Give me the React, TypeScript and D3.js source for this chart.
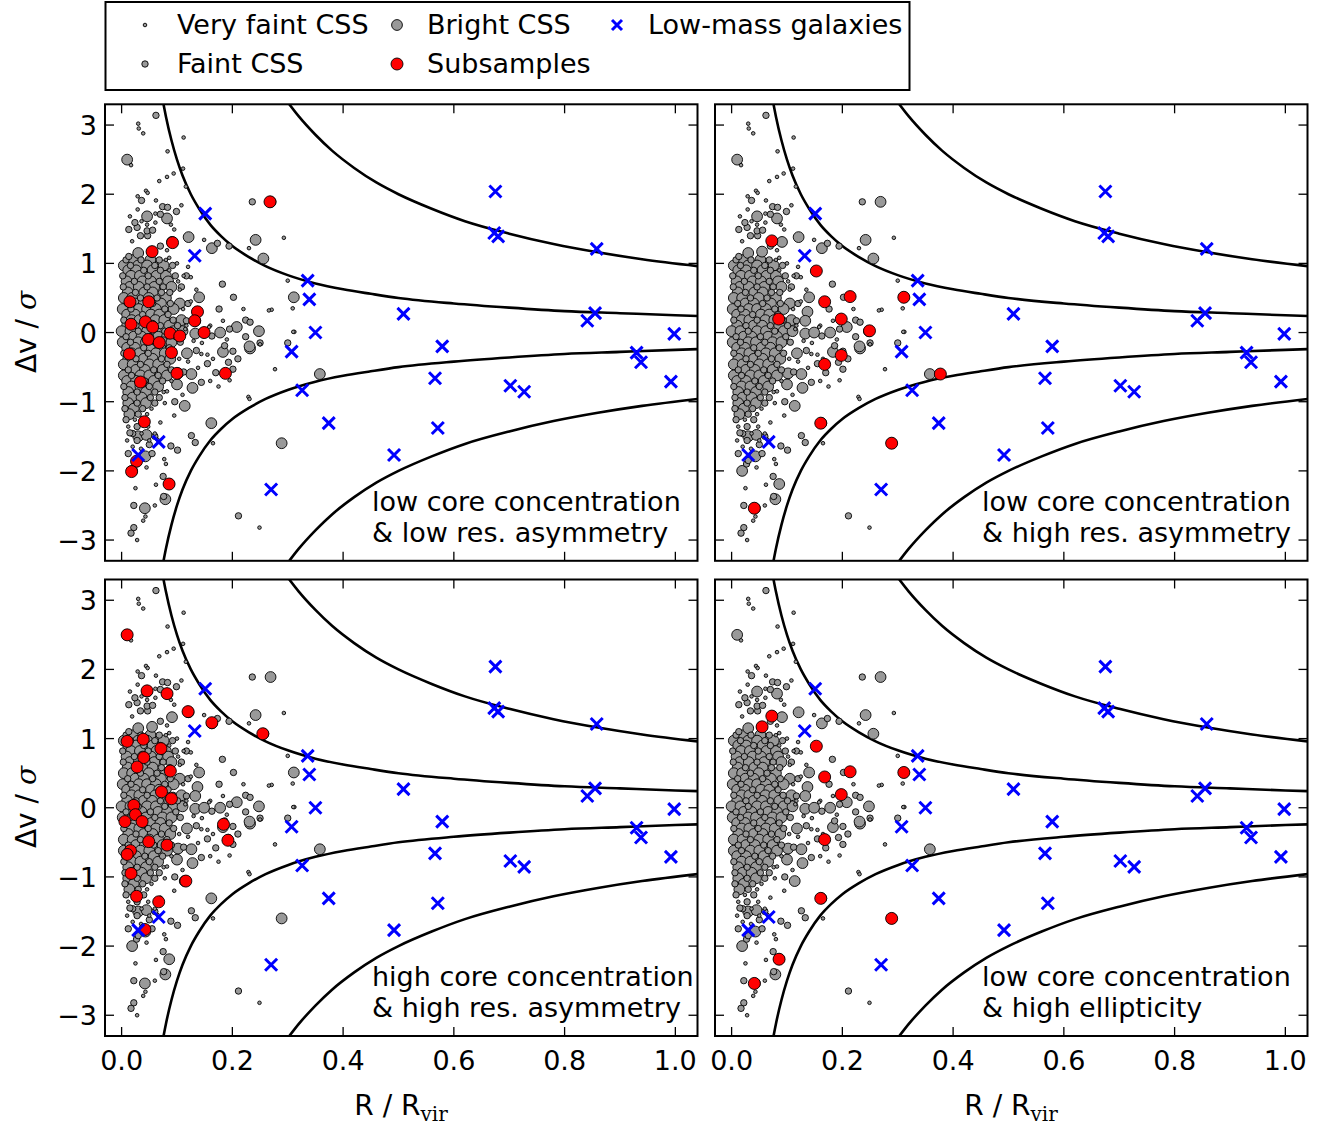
import React from 'react';
import * as d3 from 'd3';

// ---------------- DATA ----------------
const X_DOMAIN: [number, number] = [-0.03, 1.04];
const Y_DOMAIN: [number, number] = [-3.3, 3.3];
const X_TICKS = [0, 0.2, 0.4, 0.6, 0.8, 1.0];
const Y_TICKS = [-3, -2, -1, 0, 1, 2, 3];

// boundary lines (upper branch; lower branch is its mirror)
const INNER_R = [0.075, 0.08, 0.09, 0.1, 0.11, 0.125, 0.14, 0.16, 0.18, 0.2, 0.23, 0.26, 0.3, 0.35, 0.4, 0.45, 0.5, 0.6, 0.7, 0.8, 0.9, 1.0, 1.04];
const INNER_V = [3.33, 3.125, 2.78, 2.5, 2.27, 2.0, 1.79, 1.56, 1.39, 1.25, 1.09, 0.96, 0.83, 0.71, 0.625, 0.56, 0.5, 0.42, 0.36, 0.31, 0.28, 0.25, 0.24];
const OUTER_R = [0.3, 0.32, 0.35, 0.38, 0.42, 0.46, 0.5, 0.56, 0.62, 0.7, 0.78, 0.86, 0.94, 1.04];
const OUTER_V = [3.33, 3.125, 2.86, 2.63, 2.38, 2.17, 2.0, 1.79, 1.61, 1.43, 1.28, 1.16, 1.06, 0.96];

// CSS (gray) – dense core, rows of [dv, [[R, class]...]]; class 0 very faint, 1 faint, 2 bright
const CSS_CORE_ROWS: [number, [number, number][]][] = [
  [1.05, [[0.008, 1], [0.022, 2], [0.035, 1], [0.052, 2], [0.068, 1], [0.08, 0]]],
  [0.97, [[0.004, 2], [0.016, 1], [0.03, 2], [0.046, 2], [0.06, 1], [0.076, 2], [0.092, 1]]],
  [0.9, [[0.012, 2], [0.026, 2], [0.04, 1], [0.056, 2], [0.07, 1], [0.086, 0]]],
  [0.82, [[0.002, 1], [0.017, 2], [0.033, 2], [0.048, 1], [0.063, 2], [0.08, 2], [0.097, 1], [0.112, 0]]],
  [0.74, [[0.009, 2], [0.023, 1], [0.038, 2], [0.053, 2], [0.068, 1], [0.084, 2], [0.102, 0]]],
  [0.66, [[0.003, 1], [0.015, 2], [0.031, 2], [0.046, 1], [0.059, 2], [0.075, 1], [0.09, 2], [0.108, 1]]],
  [0.58, [[0.011, 2], [0.025, 1], [0.041, 2], [0.056, 2], [0.072, 1], [0.087, 1]]],
  [0.5, [[0.004, 2], [0.019, 2], [0.034, 1], [0.049, 2], [0.064, 1], [0.08, 2]]],
  [0.42, [[0.011, 1], [0.025, 2], [0.04, 2], [0.056, 1], [0.071, 2], [0.088, 1], [0.105, 2]]],
  [0.34, [[0.002, 2], [0.017, 1], [0.031, 2], [0.046, 2], [0.062, 2], [0.078, 1], [0.094, 2], [0.111, 0]]],
  [0.26, [[0.01, 2], [0.024, 2], [0.038, 1], [0.053, 2], [0.068, 2], [0.084, 1]]],
  [0.18, [[0.004, 1], [0.018, 2], [0.032, 2], [0.046, 1], [0.061, 2], [0.077, 2], [0.093, 1], [0.108, 2]]],
  [0.1, [[0.01, 2], [0.026, 1], [0.04, 2], [0.055, 2], [0.07, 1], [0.086, 2], [0.101, 1], [0.117, 0]]],
  [0.02, [[0.0, 2], [0.016, 2], [0.03, 1], [0.046, 2], [0.062, 2], [0.078, 1], [0.094, 2], [0.11, 2]]],
  [-0.06, [[0.008, 1], [0.022, 2], [0.036, 2], [0.052, 1], [0.066, 2], [0.082, 2], [0.098, 1]]],
  [-0.14, [[0.002, 2], [0.016, 1], [0.03, 2], [0.044, 2], [0.06, 1], [0.074, 2], [0.09, 2], [0.106, 1]]],
  [-0.22, [[0.01, 2], [0.024, 2], [0.04, 1], [0.054, 2], [0.07, 2], [0.086, 1]]],
  [-0.3, [[0.004, 1], [0.018, 2], [0.032, 2], [0.048, 1], [0.062, 2], [0.078, 2], [0.094, 1]]],
  [-0.38, [[0.012, 2], [0.026, 1], [0.04, 2], [0.056, 2], [0.072, 1], [0.088, 2], [0.104, 0]]],
  [-0.46, [[0.004, 2], [0.02, 2], [0.034, 1], [0.05, 2], [0.066, 2], [0.082, 1]]],
  [-0.54, [[0.012, 1], [0.026, 2], [0.042, 2], [0.058, 1], [0.074, 2], [0.09, 1]]],
  [-0.62, [[0.004, 2], [0.018, 1], [0.034, 2], [0.05, 2], [0.066, 1], [0.082, 2]]],
  [-0.7, [[0.01, 2], [0.026, 2], [0.042, 1], [0.058, 2], [0.074, 1], [0.09, 0]]],
  [-0.78, [[0.004, 1], [0.018, 2], [0.034, 2], [0.05, 1], [0.066, 2]]],
  [-0.86, [[0.012, 2], [0.028, 1], [0.044, 2], [0.06, 1], [0.076, 0]]],
  [-0.94, [[0.006, 1], [0.02, 2], [0.036, 2], [0.052, 1], [0.068, 1]]],
  [-1.02, [[0.012, 2], [0.028, 1], [0.044, 2], [0.06, 1], [0.078, 0]]],
  [-1.1, [[0.006, 1], [0.022, 2], [0.038, 1], [0.054, 0]]],
  [-1.18, [[0.014, 2], [0.03, 1], [0.046, 0]]],
  [-1.26, [[0.008, 1], [0.024, 0], [0.04, 1]]],
  [-1.36, [[0.012, 0], [0.028, 1], [0.048, 0]]],
  [-1.46, [[0.02, 1], [0.036, 0], [0.06, 0]]],
  [-1.56, [[0.01, 0], [0.028, 1], [0.05, 0]]],
];

// CSS (gray) – sparse points: [R, dv, class]
const CSS_SPARSE: [number, number, number][] = [
  [0.013, 1.10, 1], [0.03, 1.15, 2], [0.055, 1.17, 2], [0.07, 1.25, 1], [0.082, 1.19, 0], [0.019, 1.32, 0],
  [0.034, 1.40, 1], [0.047, 1.40, 1], [0.091, 1.31, 2], [0.121, 1.38, 2], [0.013, 1.49, 1], [0.028, 1.52, 1],
  [0.046, 1.47, 1], [0.056, 1.48, 1], [0.095, 1.49, 0], [0.024, 1.59, 1], [0.036, 1.61, 0], [0.046, 1.56, 0],
  [0.061, 1.59, 0], [0.089, 1.56, 0], [0.015, 1.68, 0], [0.046, 1.68, 2], [0.061, 1.72, 0], [0.07, 1.71, 1],
  [0.082, 1.65, 2], [0.099, 1.75, 1], [0.029, 1.78, 0], [0.074, 1.82, 1], [0.083, 1.81, 1], [0.108, 1.84, 0],
  [0.036, 1.91, 1], [0.062, 1.91, 0], [0.029, 1.97, 0], [0.044, 2.05, 0], [0.047, 2.02, 0], [0.116, 2.11, 0],
  [0.068, 2.19, 0], [0.082, 2.25, 0], [0.094, 2.30, 0], [0.111, 2.37, 0], [0.017, 2.42, 0], [0.010, 2.50, 2],
  [0.083, 2.62, 0], [0.112, 2.82, 0], [0.039, 2.88, 0], [0.031, 2.95, 0], [0.030, 3.02, 0], [0.062, 3.14, 1],
  [0.236, 1.89, 1], [0.269, 1.89, 2], [0.149, 1.34, 0], [0.163, 1.22, 2], [0.173, 1.29, 1], [0.194, 1.25, 1],
  [0.242, 1.34, 2], [0.23, 1.22, 0], [0.293, 1.37, 0], [0.256, 1.07, 2], [0.086, 1.08, 0],
  [0.117, 0.82, 1], [0.125, 0.80, 0], [0.182, 0.70, 1], [0.14, 0.51, 2], [0.176, 0.34, 1], [0.202, 0.51, 1],
  [0.22, 0.34, 0], [0.271, 0.33, 0], [0.309, 0.35, 0], [0.137, 0.30, 2], [0.133, 0.17, 2], [0.117, 0.17, 1],
  [0.183, 0.17, 0], [0.208, 0.08, 2], [0.224, 0.18, 1], [0.232, 0.15, 1], [0.133, -0.015, 2], [0.149, 0.0, 2],
  [0.163, -0.05, 1], [0.178, 0.0, 2], [0.195, 0.05, 1], [0.224, -0.06, 1], [0.25, -0.17, 0], [0.232, -0.23, 2],
  [0.186, -0.19, 1], [0.183, -0.28, 2], [0.201, -0.27, 1], [0.193, -0.43, 1], [0.201, -0.53, 1], [0.195, -0.69, 0],
  [0.144, -0.31, 0], [0.155, -0.32, 0], [0.135, -0.26, 1], [0.118, -0.30, 2], [0.138, -0.51, 0], [0.144, -0.72, 1],
  [0.128, -0.80, 2], [0.126, -0.60, 2], [0.112, -0.57, 1], [0.102, -0.59, 2], [0.082, -0.85, 0], [0.096, -1.0, 1],
  [0.114, -1.06, 2], [0.229, -0.93, 0], [0.277, -0.53, 0], [0.312, 0.01, 0], [0.16, 0.1, 0], [0.19, -0.1, 0],
  [0.21, -0.38, 1], [0.17, -0.58, 1], [0.155, -0.45, 1], [0.12, 0.42, 1], [0.1, -0.75, 2],
  [0.358, -0.6, 2], [0.311, 0.51, 2], [0.30, 0.75, 0], [0.266, 0.32, 0], [0.31, 0.01, 0], [0.30, -0.15, 1],
  [0.248, 0.02, 2], [0.25, -0.15, 1], [0.231, -0.2, 2], [0.289, -1.60, 2], [0.249, -2.82, 0], [0.231, -0.96, 0],
  [0.211, -2.65, 1], [0.162, -1.31, 2], [0.165, -1.6, 0],
  [0.126, -1.49, 1], [0.133, -1.59, 1], [0.089, -1.64, 1], [0.101, -1.70, 1], [0.043, -1.79, 2], [0.019, -2.0, 2],
  [0.027, -1.9, 1], [0.045, -1.95, 0], [0.077, -1.83, 0], [0.08, -1.9, 0], [0.075, -2.08, 1], [0.086, -2.19, 2],
  [0.062, -2.2, 0], [0.025, -2.25, 0], [0.079, -2.41, 2], [0.076, -2.37, 1], [0.022, -2.50, 1], [0.06, -2.5, 0],
  [0.043, -2.66, 0], [0.039, -2.72, 0], [0.022, -2.82, 1], [0.017, -2.90, 1], [0.028, -3.0, 0], [0.042, -2.54, 2],
  [0.015, -1.45, 1], [0.03, -1.5, 2], [0.045, -1.48, 2], [0.06, -1.5, 1], [0.02, -1.65, 0], [0.035, -1.68, 0],
  [0.05, -1.62, 1], [0.065, -1.55, 0], [0.012, -1.75, 1], [0.03, -1.85, 1], [0.055, -1.75, 1],
  [0.12, 0.95, 0], [0.105, 0.62, 0], [0.125, 0.45, 0], [0.115, 0.05, 0], [0.13, -0.12, 0], [0.12, -0.42, 0],
  [0.11, -0.9, 0], [0.095, -1.2, 0], [0.07, -1.3, 0], [0.1, 1.0, 0], [0.135, 0.62, 0], [0.145, -0.15, 0],
  [0.165, -0.38, 0], [0.175, -0.78, 0], [0.158, 0.08, 0], [0.16, -0.7, 0],
];

// Low-mass galaxies (blue crosses) – identical in all panels
const LOW_MASS: [number, number][] = [
  [0.151, 1.72], [0.132, 1.11], [0.067, -1.58], [0.030, -1.77], [0.27, -2.27], [0.326, -0.835], [0.307, -0.275],
  [0.675, 2.04], [0.673, 1.44], [0.680, 1.39], [0.858, 1.21], [0.336, 0.75], [0.339, 0.48], [0.509, 0.27],
  [0.855, 0.28], [0.841, 0.17], [0.350, 0.0], [0.998, -0.02], [0.579, -0.2], [0.930, -0.29], [0.938, -0.43],
  [0.566, -0.66], [0.702, -0.77], [0.727, -0.855], [0.992, -0.71], [0.374, -1.31], [0.571, -1.38], [0.492, -1.77],
];

// Subsamples (red) for each panel
const RED_LOWCC_LOWASYM: [number, number][] = [
  [0.268, 1.89], [0.092, 1.30], [0.055, 1.17], [0.015, 0.445], [0.049, 0.445], [0.137, 0.30], [0.132, 0.17],
  [0.017, 0.12], [0.043, 0.155], [0.056, 0.08], [0.149, 0.0], [0.0875, -0.01], [0.105, -0.05], [0.048, -0.1],
  [0.068, -0.145], [0.014, -0.31], [0.09, -0.29], [0.1, -0.59], [0.1875, -0.59], [0.034, -0.715], [0.041, -1.29],
  [0.027, -1.86], [0.018, -2.01], [0.0857, -2.19],
];
const RED_LOWCC_HIGHASYM: [number, number][] = [
  [0.0726, 1.325], [0.153, 0.89], [0.214, 0.52], [0.168, 0.445], [0.311, 0.51], [0.085, 0.195], [0.198, 0.195],
  [0.249, 0.025], [0.198, -0.33], [0.168, -0.46], [0.377, -0.6], [0.161, -1.31], [0.289, -1.6], [0.041, -2.54],
];
const RED_HIGHCC_HIGHASYM: [number, number][] = [
  [0.01, 2.50], [0.046, 1.69], [0.082, 1.65], [0.12, 1.39], [0.163, 1.23], [0.255, 1.07], [0.01, 0.96],
  [0.039, 0.99], [0.071, 0.855], [0.04, 0.725], [0.088, 0.53], [0.028, 0.59], [0.072, 0.23], [0.09, 0.13],
  [0.022, 0.035], [0.025, -0.1], [0.006, -0.2], [0.037, -0.2], [0.184, -0.24], [0.192, -0.47], [0.049, -0.49],
  [0.082, -0.54], [0.016, -0.62], [0.01, -0.675], [0.017, -0.95], [0.116, -1.06], [0.027, -1.28], [0.067, -1.36],
  [0.042, -1.76],
];
const RED_LOWCC_HIGHELL: [number, number][] = [
  [0.0726, 1.325], [0.055, 1.17], [0.153, 0.89], [0.214, 0.52], [0.168, 0.445], [0.311, 0.51], [0.198, 0.19],
  [0.168, -0.46], [0.161, -1.31], [0.289, -1.6], [0.0857, -2.19], [0.041, -2.54],
];

const PANEL_TEXTS: [string, string][] = [
  ['low core concentration', '& low res. asymmetry'],
  ['low core concentration', '& high res. asymmetry'],
  ['high core concentration', '& high res. asymmetry'],
  ['low core concentration', '& high ellipticity'],
];
const LEGEND_LABELS = ['Very faint CSS', 'Faint CSS', 'Bright CSS', 'Subsamples', 'Low-mass galaxies'];

// ---------------- LAYOUT / STYLE ----------------
const FONT = 'DejaVu Sans, Verdana, sans-serif';
const FS = 27;
const PW = 592.5;
const PH = 456.5;
const SIZE_R = [1.8, 3.2, 5.4];
const RED_R = 6;
const GRAY = '#999999';

const xS = d3.scaleLinear().domain(X_DOMAIN).range([0, PW]);
const yS = d3.scaleLinear().domain(Y_DOMAIN).range([PH, 0]);

const cssPoints: [number, number, number][] = [
  ...CSS_CORE_ROWS.flatMap(([v, pts]) => pts.map(([r, s]) => [r, v, s] as [number, number, number])),
  ...CSS_SPARSE,
];
const cssSorted = [...cssPoints].sort((a, b) => b[2] - a[2]);

const lineGen = d3.line<[number, number]>().x(d => xS(d[0])).y(d => yS(d[1])).curve(d3.curveMonotoneX);
const innerUp = INNER_R.map((r, i) => [r, INNER_V[i]] as [number, number]);
const innerDn = INNER_R.map((r, i) => [r, -INNER_V[i]] as [number, number]);
const outerUp = OUTER_R.map((r, i) => [r, OUTER_V[i]] as [number, number]);
const outerDn = OUTER_R.map((r, i) => [r, -OUTER_V[i]] as [number, number]);

function Cross({ cx, cy, s = 6 }: { cx: number; cy: number; s?: number }) {
  return <path d={`M${cx - s},${cy - s}L${cx + s},${cy + s}M${cx - s},${cy + s}L${cx + s},${cy - s}`} stroke="#0000ff" strokeWidth={3} fill="none" />;
}

function Panel({ x0, y0, red, text, idx, showX, showY }: { x0: number; y0: number; red: [number, number][]; text: [string, string]; idx: number; showX: boolean; showY: boolean }) {
  const clipId = `clip${idx}`;
  const tl = 9;
  return (
    <g transform={`translate(${x0},${y0})`}>
      <defs>
        <clipPath id={clipId}><rect x={0} y={0} width={PW} height={PH} /></clipPath>
      </defs>
      <g clipPath={`url(#${clipId})`}>
        {[innerUp, innerDn, outerUp, outerDn].map((d, i) => (
          <path key={i} d={lineGen(d) || ''} fill="none" stroke="#000" strokeWidth={2.6} />
        ))}
        {cssSorted.map((p, i) => (
          <circle key={i} cx={xS(p[0])} cy={yS(p[1])} r={SIZE_R[p[2]]} fill={GRAY} stroke="#000" strokeWidth={0.9} />
        ))}
        {red.map((p, i) => (
          <circle key={i} cx={xS(p[0])} cy={yS(p[1])} r={RED_R} fill="#ff0000" stroke="#000" strokeWidth={0.9} />
        ))}
        {LOW_MASS.map((p, i) => <Cross key={i} cx={xS(p[0])} cy={yS(p[1])} />)}
      </g>
      {X_TICKS.map(t => (
        <g key={'x' + t}>
          <line x1={xS(t)} x2={xS(t)} y1={PH} y2={PH - tl} stroke="#000" strokeWidth={1.3} />
          <line x1={xS(t)} x2={xS(t)} y1={0} y2={tl} stroke="#000" strokeWidth={1.3} />
          {showX && (
            <text x={xS(t)} y={PH + 34} textAnchor="middle" fontSize={FS} fontFamily={FONT}>{t.toFixed(1)}</text>
          )}
        </g>
      ))}
      {Y_TICKS.map(t => (
        <g key={'y' + t}>
          <line x1={0} x2={tl} y1={yS(t)} y2={yS(t)} stroke="#000" strokeWidth={1.3} />
          <line x1={PW} x2={PW - tl} y1={yS(t)} y2={yS(t)} stroke="#000" strokeWidth={1.3} />
          {showY && (
            <text x={-8} y={yS(t) + 10} textAnchor="end" fontSize={FS} fontFamily={FONT}>{t < 0 ? '\u2212' + Math.abs(t) : String(t)}</text>
          )}
        </g>
      ))}
      <rect x={0} y={0} width={PW} height={PH} fill="none" stroke="#000" strokeWidth={2} />
      <text x={267} y={PH - 50} fontSize={FS} fontFamily={FONT}>{text[0]}</text>
      <text x={267} y={PH - 19} fontSize={FS} fontFamily={FONT}>{text[1]}</text>
    </g>
  );
}

function Legend() {
  return (
    <g>
      <rect x={105.5} y={2} width={804} height={88} fill="#fff" stroke="#000" strokeWidth={2} />
      <circle cx={145} cy={25} r={SIZE_R[0]} fill={GRAY} stroke="#000" strokeWidth={0.9} />
      <text x={177} y={34} fontSize={FS} fontFamily={FONT}>{LEGEND_LABELS[0]}</text>
      <circle cx={145} cy={64} r={SIZE_R[1]} fill={GRAY} stroke="#000" strokeWidth={0.9} />
      <text x={177} y={73} fontSize={FS} fontFamily={FONT}>{LEGEND_LABELS[1]}</text>
      <circle cx={397} cy={25} r={SIZE_R[2]} fill={GRAY} stroke="#000" strokeWidth={0.9} />
      <text x={427} y={34} fontSize={FS} fontFamily={FONT}>{LEGEND_LABELS[2]}</text>
      <circle cx={397} cy={64} r={RED_R} fill="#ff0000" stroke="#000" strokeWidth={0.9} />
      <text x={427} y={73} fontSize={FS} fontFamily={FONT}>{LEGEND_LABELS[3]}</text>
      <Cross cx={617} cy={25} s={5} />
      <text x={648} y={34} fontSize={FS} fontFamily={FONT}>{LEGEND_LABELS[4]}</text>
    </g>
  );
}

function YLabel({ cy }: { cy: number }) {
  return (
    <text transform={`translate(36,${cy}) rotate(-90)`} textAnchor="middle" fontSize={28} fontFamily={FONT}>
      <tspan>Δv / </tspan>
      <tspan fontStyle="italic" fontFamily="DejaVu Serif, serif">σ</tspan>
    </text>
  );
}

function XLabel({ cx }: { cx: number }) {
  return (
    <text x={cx} y={1115} textAnchor="middle" fontSize={28} fontFamily={FONT}>
      <tspan>R / R</tspan>
      <tspan fontFamily="DejaVu Serif, serif" fontSize={20} dy={6}>vir</tspan>
    </text>
  );
}

export default function App() {
  const LEFT = [105, 715];
  const TOP = [104.3, 579.5];
  const reds = [RED_LOWCC_LOWASYM, RED_LOWCC_HIGHASYM, RED_HIGHCC_HIGHASYM, RED_LOWCC_HIGHELL];
  return (
    <svg width={1338} height={1128} style={{ position: 'absolute', left: 0, top: 0, background: '#fff' }}>
      <rect width={1338} height={1128} fill="#fff" />
      {[0, 1, 2, 3].map(i => (
        <Panel key={i} idx={i} x0={LEFT[i % 2]} y0={TOP[Math.floor(i / 2)]} red={reds[i]} text={PANEL_TEXTS[i]}
          showX={i >= 2} showY={i % 2 === 0} />
      ))}
      <Legend />
      <YLabel cy={332} />
      <YLabel cy={807} />
      <XLabel cx={401} />
      <XLabel cx={1011} />
    </svg>
  );
}
